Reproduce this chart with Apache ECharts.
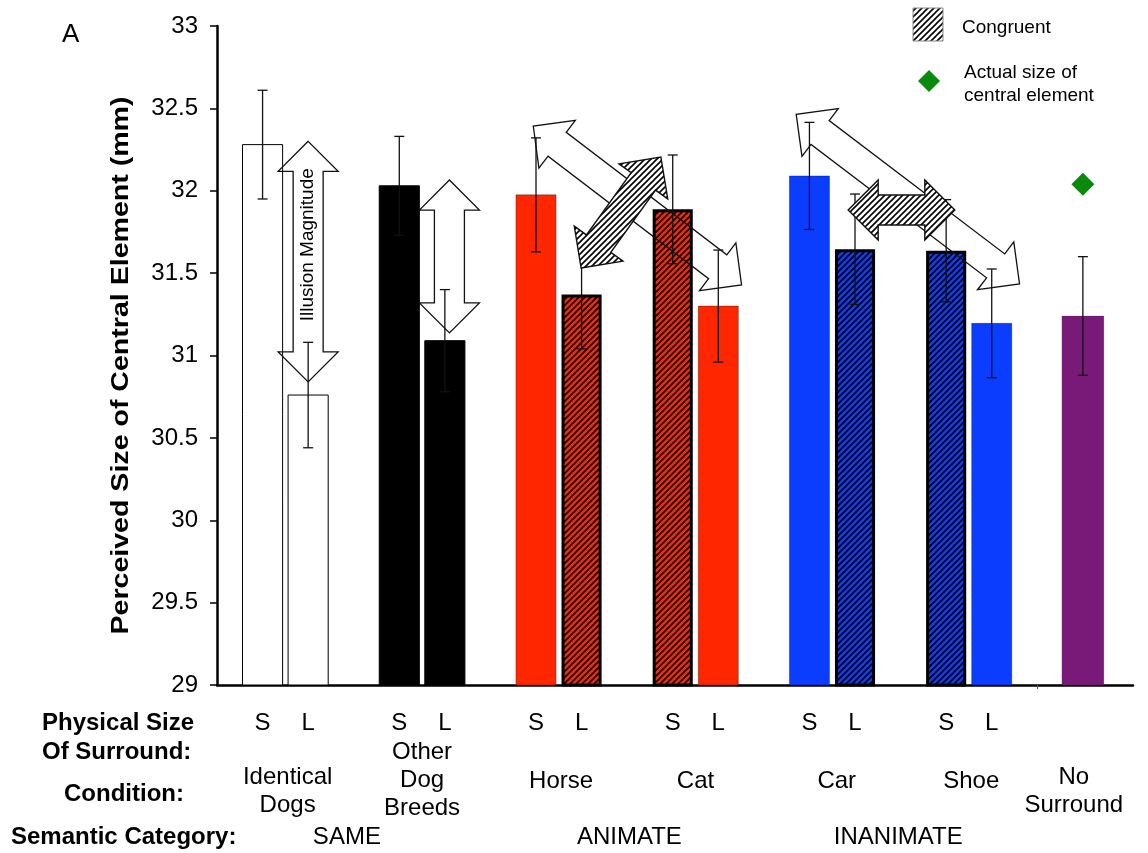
<!DOCTYPE html>
<html>
<head>
<meta charset="utf-8">
<script src="https://cdn.jsdelivr.net/npm/echarts@6/dist/echarts.min.js"></script>
<style>
  html, body { margin: 0; padding: 0; background: #ffffff; }
  #chart { width: 1148px; height: 853px; }
</style>
</head>
<body>
<div id="chart"></div>
<script>
// ---- data ----
// x positions of the S/L bars (three units per condition pair)
const barX = [1, 2, 4, 5, 7, 8, 10, 11, 13, 14, 16, 17];
const sizeLabels = ['S', 'L', 'S', 'L', 'S', 'L', 'S', 'L', 'S', 'L', 'S', 'L'];
// perceived size of the central element (mm) and its error
const meanSize = [32.28, 30.76, 32.03, 31.09, 31.975, 31.37, 31.887, 31.30, 32.09, 31.645, 31.636, 31.195];
const errSize  = [0.33, 0.32, 0.30, 0.31, 0.346, 0.33, 0.33, 0.34, 0.325, 0.335, 0.31, 0.33];
// congruent surround (hatched)
const congruent = [false, false, false, false, false, true, true, false, false, true, true, false];
const conditions = ['Identical\nDogs', 'Other\nDog\nBreeds', 'Horse', 'Cat', 'Car', 'Shoe', 'No\nSurround'];
const conditionX = [1.55, 4.5, 7.55, 10.5, 13.6, 16.55, 18.8];
const semanticCategories = ['SAME', 'ANIMATE', 'INANIMATE'];
const semanticX = [2.85, 9.05, 14.95];
const noSurroundX = 19;
const noSurroundMean = 31.24;
const noSurroundErr = 0.36;
const actualSize = 32.04;
const yTicks = { min: 29, max: 33, step: 0.5 };
// illusion-magnitude arrows: endpoints in (x, mm)
const arrowFrom = [[2, 32.30], [5.1, 32.065], [6.94, 32.393], [12.71, 32.464], [7.99, 31.531], [13.85, 31.883]];
const arrowTo   = [[2, 30.84], [5.1, 31.137], [11.51, 31.428], [17.61, 31.434], [9.74, 32.205], [16.19, 31.883]];
const arrowHatched = [false, false, false, false, true, true];
const arrowText = ['Illusion Magnitude', '', '', '', '', ''];
const yTitle = 'Perceived Size of Central Element (mm)';

// ---- styles ----
const FONT = '"Liberation Sans", Arial, Helvetica, sans-serif';
const conditionColor = ['#ffffff', '#000000', '#ff2600', '#ff2600', '#0b3dff', '#0b3dff'];
const NO_SURROUND_COLOR = '#7a1a78';
const DIAMOND_COLOR = '#0a8a0a';
const BAR_W = 0.88;
const NS_BAR_W = 0.92;

function hatchCanvas(bg) {
  const s = 6;
  const c = document.createElement('canvas');
  c.width = s; c.height = s;
  const g = c.getContext('2d');
  g.fillStyle = bg;
  g.fillRect(0, 0, s, s);
  g.strokeStyle = '#000';
  g.lineWidth = 1.6;
  g.beginPath();
  g.moveTo(-1, s + 1); g.lineTo(s + 1, -1);
  g.moveTo(-1, 1); g.lineTo(1, -1);
  g.moveTo(s - 1, s + 1); g.lineTo(s + 1, s - 1);
  g.stroke();
  return c;
}
const hatchCache = {};
function hatch(bg) {
  if (!hatchCache[bg]) hatchCache[bg] = { image: hatchCanvas(bg), repeat: 'repeat' };
  return hatchCache[bg];
}

function barStyle(i) {
  if (i < 0) return { fill: NO_SURROUND_COLOR, stroke: 'rgba(0,0,0,0.15)', lineWidth: 1 };
  const base = conditionColor[Math.floor(i / 2)];
  if (congruent[i]) return { fill: hatch(base), stroke: '#000', lineWidth: 3 };
  if (base === '#ffffff') return { fill: '#fff', stroke: '#000', lineWidth: 1 };
  if (base === '#000000') return { fill: '#000', stroke: '#000', lineWidth: 1 };
  return { fill: base, stroke: 'rgba(0,0,0,0.3)', lineWidth: 1 };
}

function arrowPoints(a, b) {
  const dx = b[0] - a[0], dy = b[1] - a[1];
  const L = Math.hypot(dx, dy);
  const ux = dx / L, uy = dy / L, nx = -uy, ny = ux;
  const H = 30, S = 15, HL = 30;
  const P = (p, t, n) => [p[0] + ux * t + nx * n, p[1] + uy * t + ny * n];
  return [a, P(a, HL, H), P(a, HL, S), P(b, -HL, S), P(b, -HL, H), b,
          P(b, -HL, -H), P(b, -HL, -S), P(a, HL, -S), P(a, HL, -H)];
}

const barData = barX.map((x, i) => [x, meanSize[i], i, BAR_W]);
barData.push([noSurroundX, noSurroundMean, -1, NS_BAR_W]);
const errData = barX.map((x, i) => [x, meanSize[i], errSize[i]]);
errData.push([noSurroundX, noSurroundMean, noSurroundErr]);
const arrowData = arrowFrom.map((f, i) => [f[0], f[1], arrowTo[i][0], arrowTo[i][1], i]);

const chart = echarts.init(document.getElementById('chart'), null, { renderer: 'canvas' });

const option = {
  animation: false,
  backgroundColor: '#ffffff',
  grid: { left: 217, top: 26, right: 15, bottom: 168, containLabel: false, outerBoundsMode: 'none' },
  xAxis: {
    type: 'value', min: 0, max: 20.1,
    splitLine: { show: false },
    axisLabel: { show: false },
    axisLine: { show: true, onZero: false, lineStyle: { color: '#000', width: 2.5 } },
    axisTick: { show: true, customValues: [18], length: 4, lineStyle: { color: '#555', width: 1 } }
  },
  yAxis: {
    type: 'value', min: yTicks.min, max: yTicks.max, interval: yTicks.step,
    splitLine: { show: false },
    axisLine: { show: true, lineStyle: { color: '#000', width: 2.5 } },
    axisTick: { show: true, length: 7, lineStyle: { color: '#000', width: 1.5 } },
    axisLabel: { color: '#000', fontSize: 24, fontFamily: FONT, margin: 19 }
  },
  series: [
    {
      type: 'custom', name: 'bars', z: 2,
      data: barData, encode: { x: 0, y: 1 },
      renderItem(params, api) {
        const x = api.value(0), v = api.value(1), i = api.value(2), w = api.value(3);
        const p0 = api.coord([x - w / 2, v]);
        const p1 = api.coord([x + w / 2, yTicks.min]);
        const st = barStyle(i);
        const inset = st.lineWidth >= 3 ? 1.5 : 0;
        return {
          type: 'rect',
          shape: { x: p0[0] + inset, y: p0[1] + inset, width: p1[0] - p0[0] - 2 * inset, height: p1[1] - p0[1] - inset },
          style: st
        };
      }
    },
    {
      type: 'custom', name: 'error', z: 3,
      data: errData, encode: { x: 0, y: 1 },
      renderItem(params, api) {
        const x = api.value(0), m = api.value(1), e = api.value(2);
        const t = api.coord([x, m + e]), b = api.coord([x, m - e]);
        const ls = { stroke: '#111', lineWidth: 1.3 };
        return {
          type: 'group', children: [
            { type: 'line', shape: { x1: t[0], y1: t[1], x2: b[0], y2: b[1] }, style: ls },
            { type: 'line', shape: { x1: t[0] - 5, y1: t[1], x2: t[0] + 5, y2: t[1] }, style: ls },
            { type: 'line', shape: { x1: b[0] - 5, y1: b[1], x2: b[0] + 5, y2: b[1] }, style: ls }
          ]
        };
      }
    },
    {
      type: 'scatter', name: 'Actual size of central element', z: 3,
      data: [[noSurroundX, actualSize]],
      symbol: 'diamond', symbolSize: 23,
      itemStyle: { color: DIAMOND_COLOR, opacity: 1 },
      emphasis: { disabled: true }
    },
    {
      type: 'custom', name: 'arrows', z: 5,
      data: arrowData, encode: { x: [0, 2], y: [1, 3] },
      renderItem(params, api) {
        const i = api.value(4);
        const a = api.coord([api.value(0), api.value(1)]);
        const b = api.coord([api.value(2), api.value(3)]);
        const pts = arrowPoints(a, b);
        const children = [{
          type: 'polygon', shape: { points: pts },
          style: arrowHatched[i]
            ? { fill: hatch('#ffffff'), stroke: '#111', lineWidth: 1.4 }
            : { fill: 'rgba(255,255,255,0)', stroke: '#111', lineWidth: 1.3 }
        }];
        if (arrowText[i]) {
          const t = 0.43;
          children.push({
            type: 'text', x: a[0] + (b[0] - a[0]) * t, y: a[1] + (b[1] - a[1]) * t,
            rotation: Math.PI / 2,
            style: { text: arrowText[i], fill: '#000', fontSize: 19, fontFamily: FONT, align: 'center', verticalAlign: 'middle' }
          });
        }
        return { type: 'group', children };
      }
    }
  ]
};
chart.setOption(option);

// ---- text rows under the axis, axis title and legend ----
const px = (x) => chart.convertToPixel({ gridIndex: 0 }, [x, yTicks.min])[0];
const txt = (x, y, s, extra) => ({
  type: 'text', x, y, silent: true,
  style: Object.assign({ text: s, fill: '#000', fontSize: 24, fontFamily: FONT, align: 'center', verticalAlign: 'middle', lineHeight: 28 }, extra || {})
});
const g = [];
barX.forEach((x, i) => g.push(txt(px(x), 723, sizeLabels[i])));
conditions.forEach((c, i) => {
  const n = c.split('\n').length;
  const y = n === 1 ? 781 : (n === 2 ? 791 : 780);
  g.push(txt(px(conditionX[i]), y, c));
});
semanticCategories.forEach((c, i) => g.push(txt(px(semanticX[i]), 837, c)));
const bold = { fontWeight: 'bold', align: 'left' };
g.push(txt(42, 723, 'Physical Size', bold));
g.push(txt(42, 752, 'Of Surround:', bold));
g.push(txt(124, 794, 'Condition:', { fontWeight: 'bold' }));
g.push(txt(11, 837, 'Semantic Category:', bold));
g.push(txt(62, 35, 'A', { fontSize: 26, align: 'left' }));
// y axis title, centred on the plot height
const yMid = (chart.convertToPixel({ gridIndex: 0 }, [0, yTicks.min])[1] + chart.convertToPixel({ gridIndex: 0 }, [0, yTicks.max])[1]) / 2;
const yTitleEl = txt(121, yMid + 10, yTitle, { fontWeight: 'bold', fontSize: 24 });
yTitleEl.rotation = Math.PI / 2;
yTitleEl.scaleX = 1.19;
g.push(yTitleEl);
// legend
g.push({ type: 'rect', shape: { x: 913, y: 8, width: 30, height: 33 }, style: { fill: hatch('#ffffff'), stroke: '#888', lineWidth: 1 } });
g.push(txt(962, 28, 'Congruent', { fontSize: 19, align: 'left' }));
g.push({ type: 'polygon', shape: { points: [[929, 70], [940, 81], [929, 92], [918, 81]] }, style: { fill: DIAMOND_COLOR } });
g.push(txt(964, 73, 'Actual size of', { fontSize: 19, align: 'left' }));
g.push(txt(964, 96, 'central element', { fontSize: 19, align: 'left' }));
chart.setOption({ graphic: g });
</script>
</body>
</html>
